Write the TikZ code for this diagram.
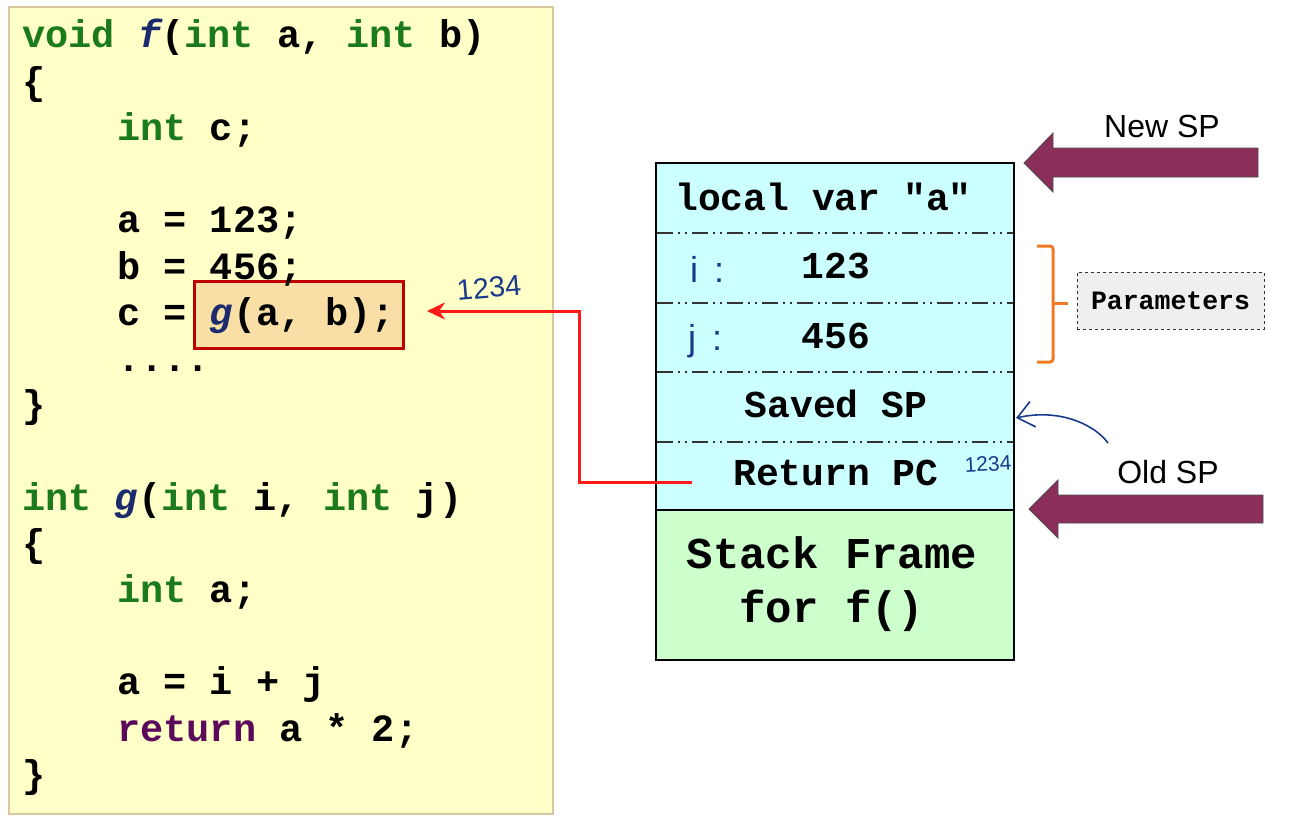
\documentclass[tikz,border=0pt]{standalone}
\usepackage{fontspec}
\usetikzlibrary{arrows.meta}
\newfontfamily\codefont{Liberation Mono}
\newfontfamily\labfont{Liberation Sans}
\definecolor{bgyellow}{HTML}{FFFFC8}
\definecolor{bgborder}{HTML}{D8C8A0}
\definecolor{kwgreen}{HTML}{1B7A1B}
\definecolor{fnblue}{HTML}{1C2A6E}
\definecolor{rtpurple}{HTML}{5B0A5B}
\definecolor{callfill}{HTML}{F9DFA5}
\definecolor{callborder}{HTML}{C00000}
\definecolor{stackcyan}{HTML}{CCFFFF}
\definecolor{stackgreen}{HTML}{CCFFCC}
\definecolor{spmaroon}{HTML}{8B2F5A}
\definecolor{bracketorange}{HTML}{F07A22}
\definecolor{paramgray}{HTML}{EFEFEF}
\definecolor{hand}{HTML}{1A3A8A}
\definecolor{redline}{HTML}{FF1A1A}
\newcommand\kw[1]{\textcolor{kwgreen}{#1}}
\newcommand\fnm[1]{\textcolor{fnblue}{\itshape #1}}
\newcommand\rtk[1]{\textcolor{rtpurple}{#1}}
\tikzset{
  codeline/.style={anchor=base west, inner sep=0pt, font=\codefont\bfseries\fontsize{38.6}{46}\selectfont},
  stacktxt/.style={anchor=base, inner sep=0pt, font=\codefont\bfseries\fontsize{38}{46}\selectfont},
  rowsep/.style={draw=black!80, line width=1.6pt, dash pattern=on 16pt off 5pt on 2pt off 5pt on 2pt off 5pt},
  sparrow/.style={fill=spmaroon, draw=black!70, line width=0.8pt},
  splabel/.style={inner sep=0pt, font=\labfont\fontsize{32}{36}\selectfont},
  handtxt/.style={inner sep=0pt, text=hand, font=\labfont\fontsize{29}{32}\selectfont},
}
\begin{document}
\begin{tikzpicture}[x=1pt,y=-1pt]
\useasboundingbox (0,0) rectangle (1300,824);
% code panel
\path[fill=bgyellow, draw=bgborder, line width=1.5pt] (9,7) rectangle (553,814);
\node[draw=callborder, fill=callfill, line width=3pt, minimum width=209pt, minimum height=67pt, inner sep=0pt] (call) at (298.5,314.5) {};
\node[codeline] (l0) at (22,48) {\kw{void} \fnm{f}(\kw{int} a, \kw{int} b)};
\node[codeline] (l1) at (22,94.2) {\{};
\node[codeline] (l2) at (117,140.4) {\kw{int} c;};
\node[codeline] (l4) at (117,232.8) {a = 123;};
\node[codeline] (l5) at (117,279) {b = 456;};
\node[codeline] (l6) at (117,325.2) {c = \fnm{g}(a, b);};
\node[codeline] (l7) at (117,371.4) {....};
\node[codeline] (l8) at (22,417.6) {\}};
\node[codeline] (l10) at (22,510) {\kw{int} \fnm{g}(\kw{int} i, \kw{int} j)};
\node[codeline] (l11) at (22,556.2) {\{};
\node[codeline] (l12) at (117,602.4) {\kw{int} a;};
\node[codeline] (l14) at (117,694.8) {a = i + j};
\node[codeline] (l15) at (117,741) {\rtk{return} a * 2;};
\node[codeline] (l16) at (22,787.2) {\}};
\node[handtxt, rotate=5] (h1) at (489,288) {1234};
% stack
\path[fill=stackcyan, draw=black, line width=2pt] (656,163) rectangle (1014,510);
\node[draw=black, fill=stackgreen, line width=2pt, minimum width=358pt, minimum height=150pt, inner sep=0pt] (frame) at (835,585) {};
\draw[rowsep] (657,233) -- (1013,233);
\draw[rowsep] (657,303) -- (1013,303);
\draw[rowsep] (657,372) -- (1013,372);
\draw[rowsep] (657,442) -- (1013,442);
\node[stacktxt, anchor=base west] (loc) at (675,210) {local var "a"};
\node[stacktxt] (p1) at (836,278) {123};
\node[stacktxt] (p2) at (836,348) {456};
\node[stacktxt] (ssp) at (836,417) {Saved SP};
\node[stacktxt] (rpc) at (836,485) {Return PC};
\node[anchor=base, inner sep=0pt, font=\codefont\bfseries\fontsize{44}{54}\selectfont] (sf1) at (832,568) {Stack Frame};
\node[anchor=base, inner sep=0pt, font=\codefont\bfseries\fontsize{44}{54}\selectfont] (sf2) at (832,622) {for f()};
\node[handtxt, font=\labfont\fontsize{36}{40}\selectfont, anchor=base west] (hi) at (690,282) {i\hspace{16pt}:};
\node[handtxt, font=\labfont\fontsize{36}{40}\selectfont, anchor=base west] (hj) at (688,350) {j\hspace{16pt}:};
\node[handtxt, font=\labfont\fontsize{21}{24}\selectfont, rotate=3] (h2) at (988,464) {1234};
% return arrow
\coordinate (rstart) at (692,482);
\coordinate (calltip) at (427,311);
\draw[redline, line width=3pt, -{Stealth[length=18pt,width=17pt]}] (rstart) -- (579,482) |- (calltip);
% SP arrows
\draw[sparrow] (1024,163) -- (1053,133) -- (1053,148) -- (1258,148) -- (1258,177) -- (1053,177) -- (1053,192) -- cycle;
\node[splabel] (newsp) at (1162,126) {New SP};
\draw[sparrow] (1029,509) -- (1058,480) -- (1058,495) -- (1263,495) -- (1263,523) -- (1058,523) -- (1058,538) -- cycle;
\node[splabel] (oldsp) at (1168,472) {Old SP};
% parameters bracket
\draw[bracketorange, line width=3pt, rounded corners=3pt] (1037,246) -- (1053,246) -- (1053,362) -- (1037,362);
\draw[bracketorange, line width=3pt] (1053,303) -- (1068,303);
\node[draw=black!80, dashed, fill=paramgray, line width=1pt, minimum width=187pt, minimum height=57pt, inner sep=0pt, font=\codefont\bfseries\fontsize{26.5}{30}\selectfont] (params) at (1170.5,300.5) {Parameters};
% hand-drawn arrow to old SP
\coordinate (cstart) at (1108,443);
\coordinate (ctip) at (1016,418);
\draw[hand, line width=1.6pt, -{Straight Barb[length=16pt,width=26pt]}] (cstart) .. controls (1095,425) and (1060,408) .. (ctip);
\end{tikzpicture}
\end{document}
